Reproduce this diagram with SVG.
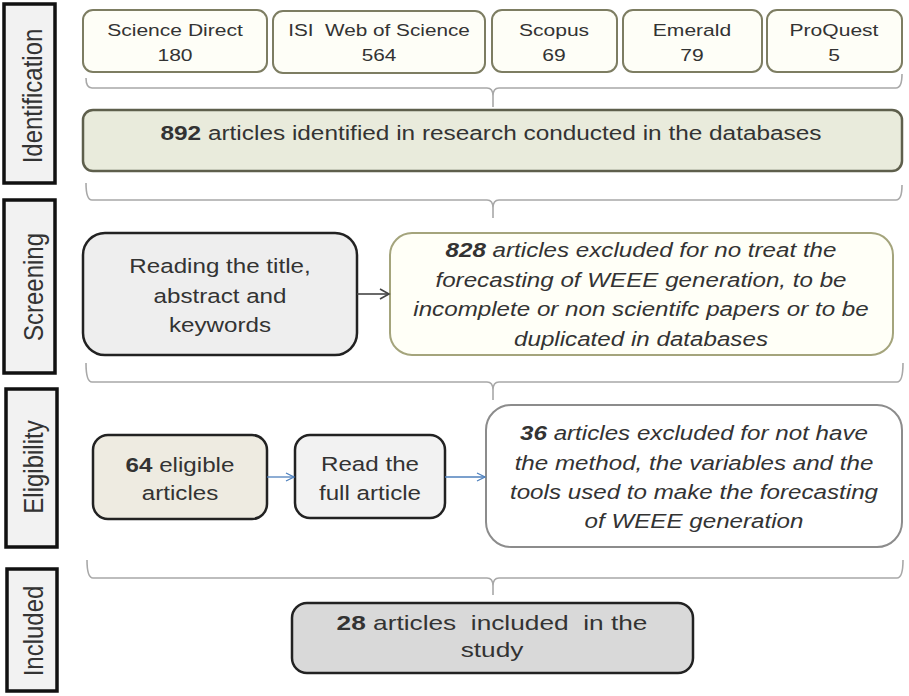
<svg xmlns="http://www.w3.org/2000/svg" width="909" height="696" viewBox="0 0 909 696">
<style>
text{font-family:"Liberation Sans",Arial,sans-serif;fill:#333}
.side rect{fill:#f2f2f2;stroke:#111;stroke-width:3.5}
.side text{font-size:24px}
.src rect{fill:#fefef7;stroke:#7d7d62;stroke-width:2}
.src text{font-size:17px}
.main{font-size:19.5px}
.it{font-style:italic}
.b{font-weight:bold}
.pre{white-space:pre}
.brace{fill:none;stroke:#a8a8a8;stroke-width:1.6}
</style>
<defs>
<marker id="ahD" markerWidth="12" markerHeight="12" refX="10" refY="6" orient="auto" markerUnits="userSpaceOnUse">
<path d="M1,1 L10,6 L1,11" fill="none" stroke="#444" stroke-width="1.6"/>
</marker>
<marker id="ahB" markerWidth="12" markerHeight="12" refX="10" refY="6" orient="auto" markerUnits="userSpaceOnUse">
<path d="M2,2 L10,6 L2,10" fill="none" stroke="#4f81bd" stroke-width="1.3"/>
</marker>
</defs>

<g id="label-identification" class="side">
<rect x="4" y="4" width="51" height="179"/>
<text transform="translate(42 96) scale(1.12 1) rotate(-90)" text-anchor="middle">Identification</text>
</g>
<g id="label-screening" class="side">
<rect x="4" y="200" width="51" height="173"/>
<text transform="translate(43 287) scale(1.12 1) rotate(-90)" text-anchor="middle">Screening</text>
</g>
<g id="label-eligibility" class="side">
<rect x="6" y="389" width="51" height="158"/>
<text transform="translate(43 467) scale(1.12 1) rotate(-90)" text-anchor="middle">Eligibility</text>
</g>
<g id="label-included" class="side">
<rect x="7" y="569" width="50" height="122"/>
<text transform="translate(43 631) scale(1.12 1) rotate(-90)" text-anchor="middle">Included</text>
</g>

<g id="src-sciencedirect" class="src">
<rect x="83" y="10" width="184" height="62" rx="10"/>
<text transform="translate(175 0) scale(1.24 1)" text-anchor="middle"><tspan x="0" y="36">Science Direct</tspan><tspan x="0" y="61">180</tspan></text>
</g>
<g id="src-isi" class="src">
<rect x="273" y="11" width="212" height="62" rx="10"/>
<text class="pre" transform="translate(379 0) scale(1.22 1)" text-anchor="middle"><tspan x="0" y="36">ISI  Web of Science</tspan><tspan x="0" y="61">564</tspan></text>
</g>
<g id="src-scopus" class="src">
<rect x="492" y="10" width="125" height="62" rx="10"/>
<text transform="translate(554 0) scale(1.24 1)" text-anchor="middle"><tspan x="0" y="36">Scopus</tspan><tspan x="0" y="61">69</tspan></text>
</g>
<g id="src-emerald" class="src">
<rect x="623" y="10" width="139" height="62" rx="10"/>
<text transform="translate(692 0) scale(1.24 1)" text-anchor="middle"><tspan x="0" y="36">Emerald</tspan><tspan x="0" y="61">79</tspan></text>
</g>
<g id="src-proquest" class="src">
<rect x="767" y="10" width="135" height="62" rx="10"/>
<text transform="translate(834 0) scale(1.24 1)" text-anchor="middle"><tspan x="0" y="36">ProQuest</tspan><tspan x="0" y="61">5</tspan></text>
</g>

<g id="identified">
<rect x="83" y="110" width="819" height="61" rx="10" fill="#e9ebdc" stroke="#5e5f4c" stroke-width="2.5"/>
<text class="main" transform="translate(491 140) scale(1.25 1)" text-anchor="middle"><tspan x="0" y="0" class="b">892</tspan> articles identified in research conducted in the databases</text>
</g>

<g id="reading-title">
<rect x="83" y="233" width="274" height="122" rx="22" fill="#eeeeee" stroke="#222" stroke-width="2.5"/>
<text class="main" transform="translate(220 0) scale(1.24 1)" text-anchor="middle"><tspan x="0" y="273">Reading the title,</tspan><tspan x="0" y="303">abstract and</tspan><tspan x="0" y="332">keywords</tspan></text>
</g>

<g id="excluded-828">
<rect x="390" y="233" width="503" height="122" rx="22" fill="#fffff7" stroke="#a4a47c" stroke-width="2"/>
<text class="main it" transform="translate(641 0) scale(1.24 1)" text-anchor="middle"><tspan x="0" y="257"><tspan class="b">828</tspan> articles excluded for no treat the</tspan><tspan x="0" y="287">forecasting of WEEE generation, to be</tspan><tspan x="0" y="316">incomplete or non scientifc papers or to be</tspan><tspan x="0" y="346">duplicated in databases</tspan></text>
</g>

<g id="eligible-64">
<rect x="93" y="435" width="174" height="84" rx="15" fill="#eeebe1" stroke="#222" stroke-width="2.5"/>
<text class="main" transform="translate(180 0) scale(1.24 1)" text-anchor="middle"><tspan x="0" y="472"><tspan class="b">64</tspan> eligible</tspan><tspan x="0" y="500">articles</tspan></text>
</g>

<g id="read-full">
<rect x="295" y="435" width="150" height="83" rx="15" fill="#f2f2f2" stroke="#222" stroke-width="2.5"/>
<text class="main" transform="translate(370 0) scale(1.24 1)" text-anchor="middle"><tspan x="0" y="471">Read the</tspan><tspan x="0" y="500">full article</tspan></text>
</g>

<g id="excluded-36">
<rect x="486" y="405" width="416" height="142" rx="25" fill="#ffffff" stroke="#8c8c8c" stroke-width="2"/>
<text class="main it" transform="translate(694 0) scale(1.24 1)" text-anchor="middle"><tspan x="0" y="440"><tspan class="b">36</tspan> articles excluded for not have</tspan><tspan x="0" y="470">the method, the variables and the</tspan><tspan x="0" y="499">tools used to make the forecasting</tspan><tspan x="0" y="528">of WEEE generation</tspan></text>
</g>

<g id="included-28">
<rect x="292" y="603" width="401" height="70" rx="15" fill="#d9d9d9" stroke="#222" stroke-width="2.5"/>
<text class="pre" transform="translate(492 0) scale(1.25 1)" text-anchor="middle" font-size="21"><tspan x="0" y="630"><tspan class="b">28</tspan> articles  included  in the</tspan><tspan x="0" y="657">study</tspan></text>
</g>

<g id="connectors">
<path class="brace" d="M86,78 Q86,88 92,88 H487 Q493,88 493,96 V107 M493,96 Q493,88 499,88 H896 Q902,88 902,74"/>
<path class="brace" d="M86,183 Q86,200 92,200 H487 Q493,200 493,208 V218 M493,208 Q493,200 499,200 H896 Q902,200 902,185"/>
<path class="brace" d="M86,363 Q86,382 92,382 H487 Q493,382 493,390 V400 M493,390 Q493,382 499,382 H897 Q903,382 903,363"/>
<path class="brace" d="M87,560 Q87,578 93,578 H487 Q493,578 493,586 V595 M493,586 Q493,578 499,578 H897 Q903,578 903,560"/>
<line x1="357" y1="294" x2="389" y2="294" stroke="#444" stroke-width="1.6" marker-end="url(#ahD)"/>
<line x1="267" y1="477" x2="294" y2="477" stroke="#4f81bd" stroke-width="1.3" marker-end="url(#ahB)"/>
<line x1="445" y1="477" x2="485" y2="477" stroke="#4f81bd" stroke-width="1.3" marker-end="url(#ahB)"/>
</g>
</svg>
